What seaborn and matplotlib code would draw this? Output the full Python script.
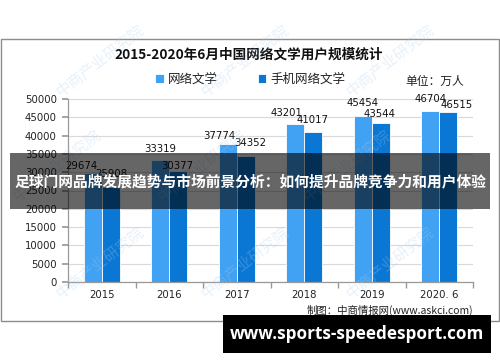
import matplotlib
matplotlib.use("Agg")
import matplotlib.pyplot as plt
import seaborn as sns
import pandas as pd
from matplotlib.patches import Rectangle

# ---- data ----
years = ["2015", "2016", "2017", "2018", "2019", "2020. 6"]
web_lit = [29674, 33319, 37774, 43201, 45454, 46704]
mobile_lit = [25908, 30377, 34352, 41017, 43544, 46515]
series = ["网络文学", "手机网络文学"]
colors = ["#41a1f2", "#0b77d4"]
y_ticks = [0, 5000, 10000, 15000, 20000, 25000, 30000, 35000, 40000, 45000, 50000]

title = "2015-2020年6月中国网络文学用户规模统计"
unit = "单位：万人"
source = "制图：中商情报网(www.askci.com)"
banner = "足球门网品牌发展趋势与市场前景分析：如何提升品牌竞争力和用户体验"
site = "www.sports-speedesport.com"
watermark = "中商产业研究院"

# label placement offsets (pixels, style only): per series, per category
label_dx = [[-11, 0, -8, -9, 0, 0], [0, -1, 4, -1, -1, 8]]
label_dy = [[7, 11, 8, 11, 12.5, 12], [13, 5, 13, 12, 8.6, 6.7]]

sns.set_theme(style="white")
plt.rcParams['font.family'] = ['Noto Sans CJK SC', 'DejaVu Sans']

df = pd.DataFrame({
    "year": years * 2,
    "value": web_lit + mobile_lit,
    "series": [series[0]] * len(years) + [series[1]] * len(years),
})

W, H = 500, 362
fig = plt.figure(figsize=(5, 3.62), dpi=100)
fig.patch.set_facecolor("white")

def fx(px):
    return px / W

def fy(py):
    return (H - py) / H

ax = fig.add_axes([fx(68), fy(282), fx(473) - fx(68), fy(99) - fy(282)])
sns.barplot(data=df, x="year", y="value", hue="series", palette=colors,
            width=0.54, gap=0, ax=ax, edgecolor="white", linewidth=0.6,
            saturation=1, legend=True)

ax.set_ylim(0, 50000)
ax.set_xlim(-0.5, len(years) - 0.5)
ax.set_yticks(y_ticks)
ax.set_yticklabels([str(v) for v in y_ticks], fontsize=7.3, family="DejaVu Sans")
ax.set_xticklabels(years, fontsize=7.3, family="DejaVu Sans")
ax.set_xlabel("")
ax.set_ylabel("")
ax.yaxis.grid(True, color="#d9d9d9", lw=0.8)
ax.set_axisbelow(True)
for s in ["top", "right"]:
    ax.spines[s].set_visible(False)
for s in ["left", "bottom"]:
    ax.spines[s].set_color("#999999")
    ax.spines[s].set_linewidth(0.9)
ax.tick_params(axis="y", left=True, length=4, color="#999999", pad=4, labelcolor="#222222")
ax.tick_params(axis="x", bottom=False, length=0, pad=6, labelcolor="#222222")
ax.set_xticks([i - 0.5 for i in range(len(years) + 1)], minor=True)
ax.tick_params(axis="x", which="minor", bottom=True, length=4, color="#999999")

# value labels
for ci, cont in enumerate(ax.containers):
    for bi, bar in enumerate(cont):
        h = bar.get_height()
        ax.annotate(f"{int(round(h))}", xy=(bar.get_x() + bar.get_width() / 2, h),
                    xytext=(label_dx[ci][bi], label_dy[ci][bi]),
                    textcoords="offset pixels",
                    ha="center", va="center", fontsize=7.3,
                    family="DejaVu Sans", color="#111111")

# legend
sns.move_legend(ax, "center", bbox_to_anchor=(fx(250), fy(79)),
                bbox_transform=fig.transFigure, ncol=2, frameon=False,
                title=None, fontsize=9, handlelength=0.7, handleheight=0.7,
                handletextpad=0.3, columnspacing=3.2)
for t in ax.get_legend().get_texts():
    t.set_color("#222222")

# titles and notes
fig.text(fx(249), fy(55), title, ha="center", va="center", fontsize=9.8,
         fontweight="bold", color="#111111")
fig.text(fx(405), fy(81), unit, ha="left", va="center", fontsize=8.5, color="#222222")
fig.text(fx(473), fy(310), source, ha="right", va="center", fontsize=7.5, color="#222222")

# watermarks (faint)
for row_y, xs in [(100, [63, 208, 353]), (205, [20, 165, 310]), (302, [63, 208, 353])]:
    for x0 in xs:
        fig.text(fx(x0), fy(row_y), watermark, rotation=38,
                 rotation_mode="anchor", ha="left", va="bottom", fontsize=11,
                 color="#a9cdee", alpha=0.28, zorder=3)

# chart frame
fig.patches.append(Rectangle((fx(1), fy(321)), fx(498), fy(39) - fy(321),
                             transform=fig.transFigure, fill=False,
                             edgecolor="#8c8c8c", lw=1, zorder=2))

# banner
fig.patches.append(Rectangle((fx(10), fy(209)), fx(480), fy(153) - fy(209),
                             transform=fig.transFigure, facecolor="black",
                             alpha=0.6, edgecolor="none", zorder=5))
fig.text(fx(250), fy(181), banner, ha="center", va="center", fontsize=10.6,
         fontweight="bold", color="white", zorder=6)

# site box
fig.patches.append(Rectangle((fx(223), fy(353)), fx(268), fy(315) - fy(353),
                             transform=fig.transFigure, facecolor="black",
                             edgecolor="none", zorder=5))
fig.text(fx(357), fy(334), site, ha="center", va="center", fontsize=12.3,
         fontweight="bold", color="white", family="Open Sans", zorder=6)

fig.savefig("out.png", dpi=100)
